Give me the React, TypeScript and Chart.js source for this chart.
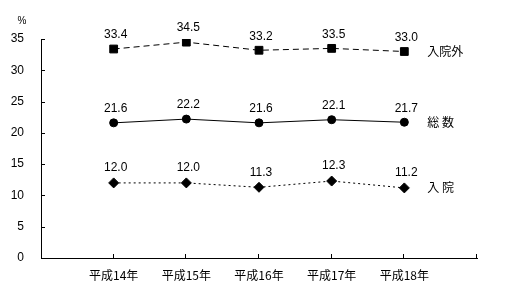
import React, { useEffect, useRef } from 'react';
import { Chart, registerables } from 'chart.js';

Chart.register(...registerables);

const categories = ['平成14年', '平成15年', '平成16年', '平成17年', '平成18年'];
const seriesNames = ['入院外', '総 数', '入 院'];
const outpatient = [33.4, 34.5, 33.2, 33.5, 33.0];
const total = [21.6, 22.2, 21.6, 22.1, 21.7];
const inpatient = [12.0, 12.0, 11.3, 12.3, 11.2];
const unitLabel = '%';

const LATIN = '"Liberation Sans", Arial, sans-serif';
const CJK = '"Noto Sans CJK JP", "Noto Sans", sans-serif';

const toPoints = (arr: number[]) => arr.map((v, i) => ({ x: i + 1, y: v }));

const decorPlugin = {
  id: 'decor',
  afterDatasetsDraw(chart: any) {
    const ctx = chart.ctx as CanvasRenderingContext2D;
    const { left, top, bottom } = chart.chartArea;
    const xs = chart.scales.x;
    const ys = chart.scales.y;
    ctx.save();
    ctx.strokeStyle = '#000';
    ctx.lineWidth = 1;
    ctx.setLineDash([]);
    ctx.beginPath();
    ys.ticks.forEach((t: any) => {
      const y = Math.round(ys.getPixelForValue(t.value)) + 0.5;
      ctx.moveTo(left, y);
      ctx.lineTo(left + 4, y);
    });
    xs.ticks.forEach((t: any) => {
      if (t.value === 0) return;
      const x = Math.round(xs.getPixelForValue(t.value)) - 0.5;
      ctx.moveTo(x, bottom);
      ctx.lineTo(x, bottom - 4);
    });
    ctx.stroke();

    ctx.fillStyle = '#000';
    ctx.textBaseline = 'middle';
    chart.data.datasets.forEach((ds: any, i: number) => {
      const meta = chart.getDatasetMeta(i);
      const off = ds.pointStyle === 'rectRot' ? 15 : 14;
      ctx.font = `12px ${LATIN}`;
      ctx.textAlign = 'center';
      meta.data.forEach((pt: any, j: number) => {
        const v = ds.data[j].y as number;
        ctx.fillText(v.toFixed(1), pt.x + 2, pt.y - off);
      });
      const last = meta.data[meta.data.length - 1];
      ctx.font = `12px ${CJK}`;
      ctx.textAlign = 'left';
      ctx.fillText(ds.label, last.x + 23, last.y);
    });

    ctx.font = `10px ${LATIN}`;
    ctx.textAlign = 'center';
    ctx.fillText(unitLabel, left - 19, top - 18);
    ctx.restore();
  },
};

export default function App() {
  const ref = useRef<HTMLCanvasElement | null>(null);

  useEffect(() => {
    if (!ref.current) return;
    const chart = new Chart(ref.current, {
      type: 'line',
      data: {
        datasets: [
          {
            label: seriesNames[0],
            data: toPoints(outpatient),
            borderColor: '#000',
            backgroundColor: '#000',
            borderWidth: 1,
            borderDash: [6, 4],
            pointStyle: 'rect',
            pointRadius: 5.5,
            pointBorderWidth: 1,
          },
          {
            label: seriesNames[1],
            data: toPoints(total),
            borderColor: '#000',
            backgroundColor: '#000',
            borderWidth: 1,
            pointStyle: 'circle',
            pointRadius: 4,
            pointBorderWidth: 1,
          },
          {
            label: seriesNames[2],
            data: toPoints(inpatient),
            borderColor: '#000',
            backgroundColor: '#000',
            borderWidth: 1,
            borderDash: [2, 3],
            pointStyle: 'rectRot',
            pointRadius: 5,
            pointBorderWidth: 1,
          },
        ],
      },
      options: {
        animation: false,
        responsive: false,
        layout: { padding: { top: 39, right: 43, left: 0, bottom: 0 } },
        plugins: {
          legend: { display: false },
          tooltip: { enabled: false },
        },
        scales: {
          x: {
            type: 'linear',
            min: 0,
            max: categories.length + 1,
            grid: { display: false, drawTicks: false },
            border: { display: true, color: '#000', width: 1 },
            afterFit: (s: any) => {
              s.height = 38;
            },
            ticks: {
              stepSize: 1,
              padding: 10,
              color: '#000',
              font: { family: CJK, size: 12 },
              autoSkip: false,
              maxRotation: 0,
              callback: (v: any) => {
                const i = Number(v) - 1;
                return i >= 0 && i < categories.length ? categories[i] : '';
              },
            },
          },
          y: {
            min: 0,
            max: 35,
            grid: { display: false, drawTicks: false },
            border: { display: true, color: '#000', width: 1 },
            afterFit: (s: any) => {
              s.width = 41;
            },
            ticks: {
              stepSize: 5,
              padding: 17,
              color: '#000',
              font: { family: LATIN, size: 12 },
            },
          },
        },
      },
      plugins: [decorPlugin],
    });
    return () => chart.destroy();
  }, []);

  return (
    <div style={{ position: 'absolute', left: 0, top: 0, width: 520, height: 296, background: '#fff' }}>
      <canvas ref={ref} width={520} height={296} style={{ display: 'block' }} />
    </div>
  );
}
